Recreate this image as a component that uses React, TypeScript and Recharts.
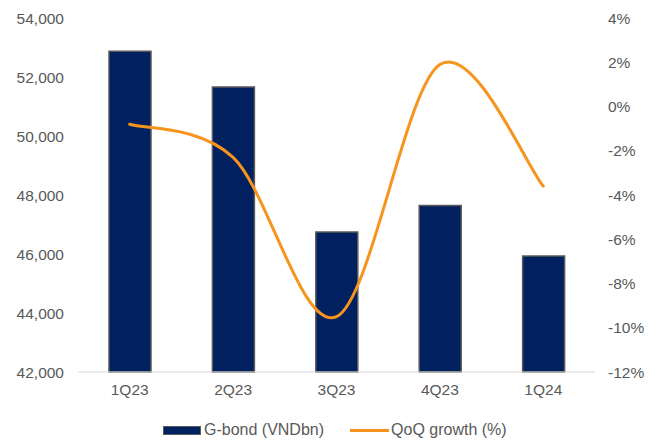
import {
  ComposedChart,
  Bar,
  Line,
  XAxis,
  YAxis,
  Legend,
} from "recharts";

const quarters = ["1Q23", "2Q23", "3Q23", "4Q23", "1Q24"];
const gbondIssued = [52870, 51660, 46750, 47640, 45930]; // VNDbn
const qoqGrowth = [-0.8, -2.3, -9.5, 1.9, -3.6]; // %

const leftTicks = [42000, 44000, 46000, 48000, 50000, 52000, 54000];
const rightTicks = [-12, -10, -8, -6, -4, -2, 0, 2, 4];

const data = quarters.map((q, i) => ({
  quarter: q,
  gbond: gbondIssued[i],
  qoq: qoqGrowth[i],
}));

const NAVY = "#002060";
const ORANGE = "#F7941D";
const TEXT = "#595959";
const FONT = "'Liberation Sans', Arial, sans-serif";

// Office-style smoothed line: cubic Bezier through every point,
// control points a sixth of the neighbour span away (Catmull-Rom).
function smoothCurve(context: any) {
  let pts: [number, number][] = [];
  return {
    areaStart() {},
    areaEnd() {},
    lineStart() {
      pts = [];
    },
    point(x: number, y: number) {
      pts.push([+x, +y]);
    },
    lineEnd() {
      if (!pts.length) return;
      context.moveTo(pts[0][0], pts[0][1]);
      for (let i = 0; i < pts.length - 1; i++) {
        const p0 = pts[i - 1] ?? pts[i];
        const p1 = pts[i];
        const p2 = pts[i + 1];
        const p3 = pts[i + 2] ?? pts[i + 1];
        context.bezierCurveTo(
          p1[0] + (p2[0] - p0[0]) / 6,
          p1[1] + (p2[1] - p0[1]) / 6,
          p2[0] - (p3[0] - p1[0]) / 6,
          p2[1] - (p3[1] - p1[1]) / 6,
          p2[0],
          p2[1]
        );
      }
    },
  };
}

function LegendContent({ payload }: any) {
  return (
    <div style={{ display: "flex", alignItems: "center", fontSize: 16, color: TEXT, fontFamily: FONT }}>
      {(payload ?? []).map((p: any, i: number) => (
        <div key={p.value} style={{ display: "flex", alignItems: "center", marginLeft: i ? 26 : 0 }}>
          {p.type === "line" ? (
            <span style={{ width: 39, height: 3, background: ORANGE, marginRight: 2 }} />
          ) : (
            <span
              style={{
                width: 36,
                height: 7,
                background: NAVY,
                border: "1px solid #5a5a5a",
                marginRight: 3,
              }}
            />
          )}
          <span>{p.value}</span>
        </div>
      ))}
    </div>
  );
}

export default function App() {
  const tick = { fill: TEXT, fontSize: 15.5 };
  return (
    <div style={{ position: "absolute", left: 0, top: 0, background: "#fff" }}>
      <ComposedChart
        width={661}
        height={443}
        data={data}
        margin={{ top: 18, right: 0, bottom: 41, left: 0 }}
        style={{ fontFamily: FONT }}
      >
        <XAxis
          dataKey="quarter"
          height={30}
          tick={tick}
          tickLine={false}
          tickMargin={6}
          axisLine={{ stroke: "#d9d9d9" }}
        />
        <YAxis
          yAxisId="left"
          width={78}
          domain={[42000, 54000]}
          ticks={leftTicks}
          tick={tick}
          tickLine={false}
          axisLine={false}
          tickMargin={8}
          tickFormatter={(v: number) => v.toLocaleString("en-US")}
        />
        <YAxis
          yAxisId="right"
          orientation="right"
          width={66}
          domain={[-12, 4]}
          ticks={rightTicks}
          tick={tick}
          tickLine={false}
          axisLine={false}
          tickMargin={7}
          tickFormatter={(v: number) => `${v}%`}
        />
        <Legend
          layout="horizontal"
          verticalAlign="middle"
          align="center"
          wrapperStyle={{ top: 421, left: 163, width: "auto" }}
          content={<LegendContent />}
        />
        <Bar
          yAxisId="left"
          dataKey="gbond"
          name="G-bond (VNDbn)"
          legendType="rect"
          fill={NAVY}
          stroke="#5a5a5a"
          strokeWidth={1.5}
          barSize={42}
          isAnimationActive={false}
        />
        <Line
          yAxisId="right"
          dataKey="qoq"
          name="QoQ growth (%)"
          legendType="line"
          type={smoothCurve as any}
          stroke={ORANGE}
          strokeWidth={3}
          strokeLinecap="round"
          dot={false}
          activeDot={false}
          isAnimationActive={false}
        />
      </ComposedChart>
    </div>
  );
}
